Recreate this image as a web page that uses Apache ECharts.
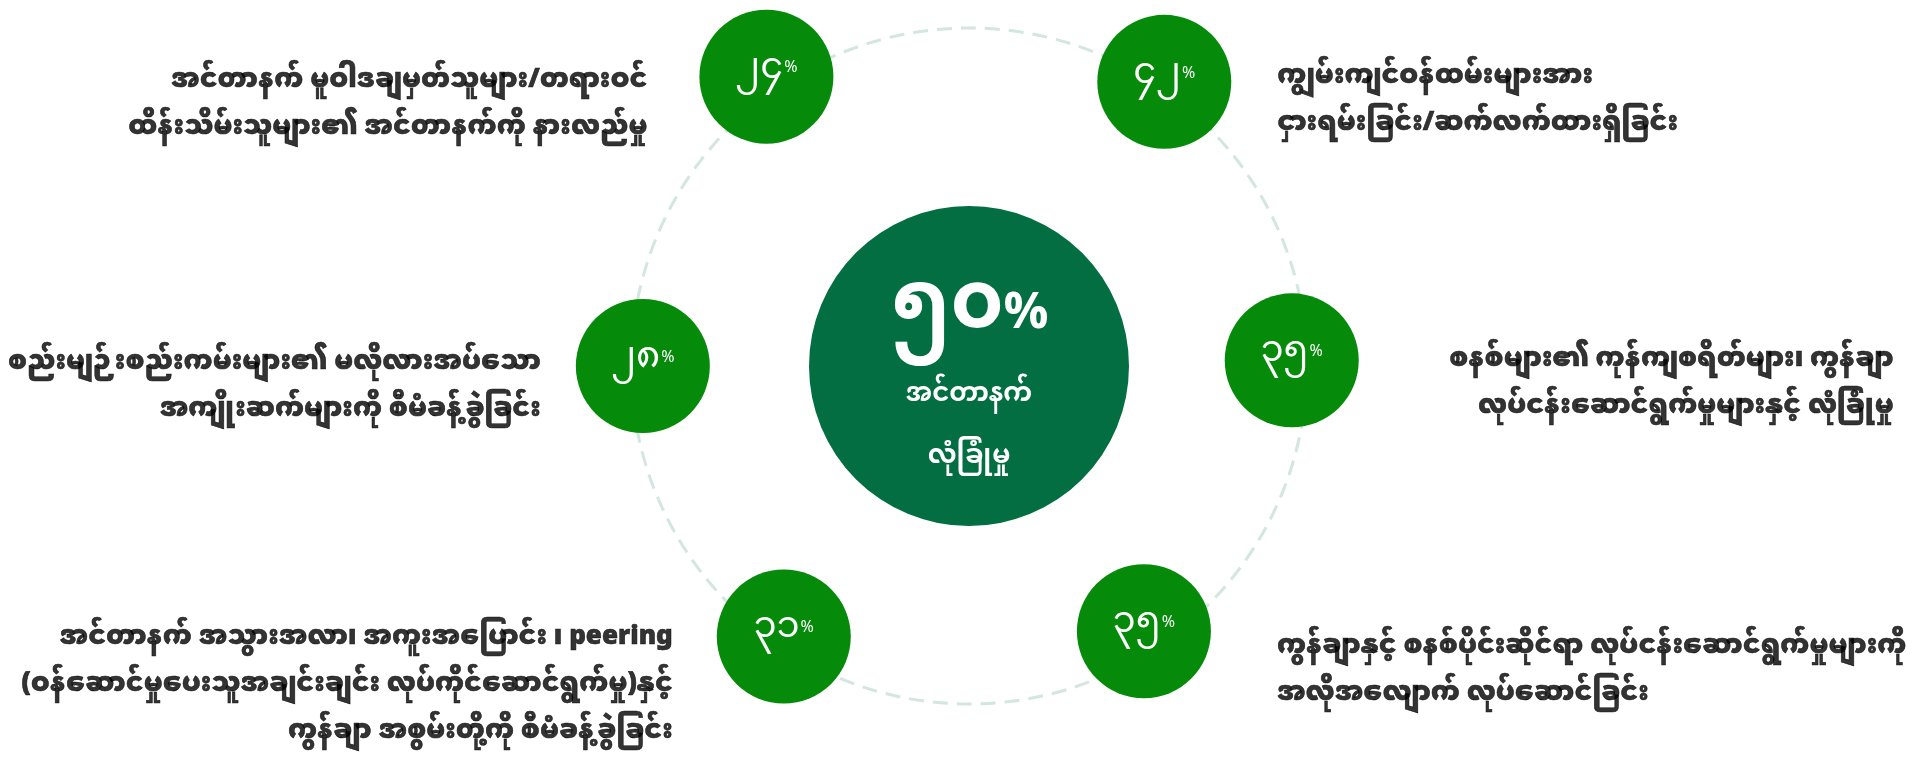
<!DOCTYPE html>
<html><head><meta charset="utf-8">
<script src="https://cdn.jsdelivr.net/npm/echarts@6/dist/echarts.min.js"></script>
<style>html,body{margin:0;padding:0;background:#fff}#c{width:1925px;height:771px}</style>
</head><body><div id="c"></div>
<script>
// ---- data ----
const itemTexts = [
  'အင်တာနက် မူဝါဒချမှတ်သူများ/တရားဝင်\nထိန်းသိမ်းသူများ၏ အင်တာနက်ကို နားလည်မှု',
  'ကျွမ်းကျင်ဝန်ထမ်းများအား\nငှားရမ်းခြင်း/ဆက်လက်ထားရှိခြင်း',
  'စနစ်များ၏ ကုန်ကျစရိတ်များ၊ ကွန်ချာ\nလုပ်ငန်းဆောင်ရွက်မှုများနှင့် လုံခြုံမှု',
  'ကွန်ချာနှင့် စနစ်ပိုင်းဆိုင်ရာ လုပ်ငန်းဆောင်ရွက်မှုများကို\nအလိုအလျောက် လုပ်ဆောင်ခြင်း',
  'အင်တာနက် အသွားအလာ၊ အကူးအပြောင်း ၊ peering\n(ဝန်ဆောင်မှုပေးသူအချင်းချင်း လုပ်ကိုင်ဆောင်ရွက်မှု)နှင့်\nကွန်ချာ အစွမ်းတို့ကို စီမံခန့်ခွဲခြင်း',
  'စည်းမျဉ်းစည်းကမ်းများ၏ မလိုလားအပ်သော\nအကျိုးဆက်များကို စီမံခန့်ခွဲခြင်း'
];
const itemValues = [24, 42, 35, 35, 31, 28];
const centerValue = 50;
const centerText = ['အင်တာနက်', 'လုံခြုံမှု'];

// ---- layout (slot angle in degrees, distance as share of ring radius) ----
const RING = 338;
const slotAngles = [125, 55.5, 1, 303.4, 235.6, 180];
const slotDist = [1.045, 1.02, 0.955, 0.94, 0.97, 0.965];
const slotText = [
  {align: 'right', off: [-119, 31]},
  {align: 'left',  off: [113, 22]},
  {align: 'right', off: [602, 26]},
  {align: 'left',  off: [133, 42]},
  {align: 'right', off: [-111, 52]},
  {align: 'right', off: [-102, 24]}
];
const FONT = "'Noto Sans Myanmar', 'Noto Sans Myanmar UI', Padauk, 'Myanmar Text', Pyidaungsu, 'Noto Sans', sans-serif";
const toMy = n => String(n).replace(/\d/g, d => String.fromCharCode(0x1040 + Number(d)));

const chart = echarts.init(document.getElementById('c'), null, {renderer: 'canvas'});
chart.setOption({
  backgroundColor: '#ffffff',
  animation: false,
  polar: [
    {center: [969, 366], radius: RING},
    {center: [969, 366], radius: RING * 1.1}
  ],
  angleAxis: [
    {
      polarIndex: 0, type: 'value', min: 0, max: 360, startAngle: 0, clockwise: false,
      axisLine: {show: true, lineStyle: {color: '#d3e6df', width: 3, type: [15, 9]}},
      axisTick: {show: false}, axisLabel: {show: false}, splitLine: {show: false}
    },
    {
      polarIndex: 1, type: 'value', min: 0, max: 360, startAngle: 0, clockwise: false,
      axisLine: {show: false}, axisTick: {show: false}, axisLabel: {show: false}, splitLine: {show: false}
    }
  ],
  radiusAxis: [
    {polarIndex: 0, type: 'value', min: 0, max: 1, show: false, axisLine: {show: false}, splitLine: {show: false}},
    {polarIndex: 1, type: 'value', min: 0, max: 1.1, show: false, axisLine: {show: false}, splitLine: {show: false}}
  ],
  series: [
    {
      type: 'scatter', coordinateSystem: 'polar', polarIndex: 1, z: 3,
      symbol: 'circle', symbolSize: 320,
      itemStyle: {color: '#026E41', opacity: 1},
      data: [[0, 0]],
      label: {
        show: true, position: 'inside', offset: [0, 8],
        formatter: () => '{big|' + toMy(centerValue) + '}{bp|%}\n{t|' + centerText[0] + '}\n{t|' + centerText[1] + '}',
        rich: {
          big: {fontFamily: FONT, fontSize: 80, fontWeight: 'bold', color: '#fff', lineHeight: 110, verticalAlign: 'bottom', padding: [0, 0, 9, 0]},
          bp: {fontFamily: FONT, fontSize: 50, fontWeight: 'bold', color: '#fff', lineHeight: 110, verticalAlign: 'bottom', padding: [0, 0, 19, 0]},
          t: {fontFamily: FONT, fontSize: 26, fontWeight: 'bold', color: '#fff', lineHeight: 62}
        }
      }
    },
    {
      type: 'scatter', coordinateSystem: 'polar', polarIndex: 1, z: 4,
      symbol: 'circle', symbolSize: 134,
      itemStyle: {color: '#058A0A', opacity: 1},
      data: itemValues.map((v, i) => [slotDist[i], slotAngles[i]]),
      label: {
        show: true, position: 'inside', offset: [0, -3],
        formatter: p => '{n|' + toMy(itemValues[p.dataIndex]) + '}{p|%}',
        rich: {
          n: {fontFamily: FONT, fontSize: 37, color: '#fff', lineHeight: 46},
          p: {fontFamily: FONT, fontSize: 16, color: '#fff', lineHeight: 46, verticalAlign: 'top', padding: [12, 0, 0, 1]}
        }
      }
    },
    {
      type: 'scatter', coordinateSystem: 'polar', polarIndex: 1, z: 5,
      symbol: 'circle', symbolSize: 1,
      itemStyle: {color: 'rgba(0,0,0,0)'},
      silent: true,
      data: itemTexts.map((t, i) => ({
        value: [slotDist[i], slotAngles[i]],
        label: {
          show: true, position: 'inside', formatter: t,
          align: slotText[i].align, verticalAlign: 'middle', offset: slotText[i].off,
          fontFamily: FONT, fontSize: 26, fontWeight: 900, color: '#000', lineHeight: 47,
          textBorderColor: '#000', textBorderWidth: 0.6
        }
      }))
    }
  ]
});
</script></body></html>
